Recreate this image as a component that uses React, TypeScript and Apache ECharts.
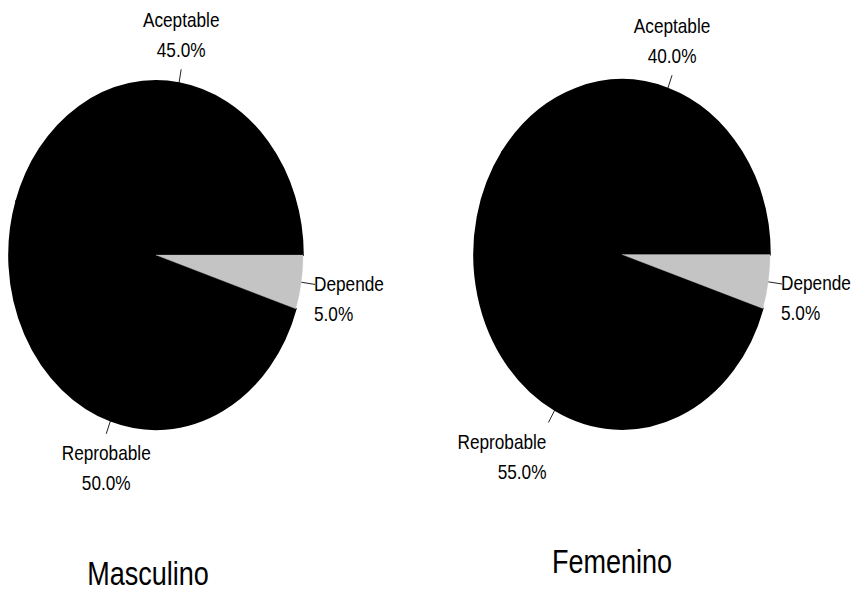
import React, { useEffect, useRef } from 'react';
import * as echarts from 'echarts';

// ---- data ----
const categories = ['Depende', 'Reprobable', 'Aceptable'];
const masculinoValues = [5, 50, 45];
const femeninoValues = [5, 55, 40];
const groupTitles = ['Masculino', 'Femenino'];

// ---- styles / layout ----
const FONT = '"Liberation Sans", Arial, sans-serif';
const NARROW = 0.82; // horizontal squeeze to imitate a narrow typeface
const SLICE_COLORS: Record<string, string> = {
  Depende: '#c4c4c4',
  Reprobable: '#000000',
  Aceptable: '#000000',
};
const PIES = [
  { cx: 156, cy: 255, rx: 147, ry: 174, titleX: 148, titleY: 574 },
  { cx: 622, cy: 254.5, rx: 148, ry: 174.5, titleX: 612, titleY: 562 },
];
const LABEL_FONT_SIZE = 21;
const LABEL_LINE_HEIGHT = 30;
const LINE_LEN = 14;

function makeRenderItem(values: number[], pie: typeof PIES[number]) {
  const total = values.reduce((a, b) => a + b, 0);
  return (params: any, api: any) => {
    const i = params.dataIndex;
    let before = 0;
    for (let k = 0; k < i; k++) before += values[k];
    const v = api.value(0) as number;
    const a0 = (before / total) * Math.PI * 2;
    const a1 = ((before + v) / total) * Math.PI * 2;
    const mid = (a0 + a1) / 2;
    const c = Math.cos(mid);
    const s = Math.sin(mid);
    const p0 = [pie.cx + pie.rx * c, pie.cy + pie.ry * s];
    const p1 = [p0[0] + LINE_LEN * c, p0[1] + LINE_LEN * s];
    let align = 'center';
    if (c > 0.4) align = 'left';
    else if (c < -0.4) align = 'right';
    let vAlign = 'middle';
    if (s > 0.4) vAlign = 'top';
    else if (s < -0.4) vAlign = 'bottom';
    const tx = p1[0] + (align === 'left' ? -1 : align === 'right' ? -2 : 0);
    const ty = p1[1] + (vAlign === 'top' ? 4 : vAlign === 'bottom' ? -4 : 14 * Math.sign(s));
    const name = categories[i];
    const pct = ((v / total) * 100).toFixed(1) + '%';
    const color = SLICE_COLORS[name];
    const isGray = color !== '#000000';
    return {
      type: 'group',
      children: [
        {
          type: 'sector',
          shape: { cx: pie.cx, cy: pie.cy, r: pie.rx, r0: 0, startAngle: a0, endAngle: a1, clockwise: true },
          originX: pie.cx,
          originY: pie.cy,
          scaleY: pie.ry / pie.rx,
          z2: isGray ? 2 : 1,
          style: { fill: color, stroke: color, lineWidth: isGray ? 0.3 : 1.6 },
        },
        {
          type: 'line',
          shape: { x1: p0[0], y1: p0[1], x2: p1[0], y2: p1[1] },
          style: { stroke: '#222', lineWidth: 1 },
        },
        {
          type: 'text',
          x: tx,
          y: ty,
          scaleX: NARROW,
          originX: 0,
          originY: 0,
          style: {
            text: name + '\n' + pct,
            fontFamily: FONT,
            fontSize: LABEL_FONT_SIZE,
            lineHeight: LABEL_LINE_HEIGHT,
            align,
            verticalAlign: vAlign,
            fill: '#000',
          },
        },
      ],
    };
  };
}

export default function App() {
  const ref = useRef<HTMLDivElement>(null);
  useEffect(() => {
    if (!ref.current) return;
    const chart = echarts.init(ref.current, null, { renderer: 'svg' });
    const seriesValues = [masculinoValues, femeninoValues];
    chart.setOption({
      animation: false,
      backgroundColor: '#ffffff',
      series: seriesValues.map((vals, idx) => ({
        type: 'custom',
        name: groupTitles[idx],
        coordinateSystem: 'none',
        renderItem: makeRenderItem(vals, PIES[idx]),
        data: vals.map((v) => [v]),
        silent: true,
      })),
      graphic: groupTitles.map((t, idx) => ({
        type: 'text',
        x: PIES[idx].titleX,
        y: PIES[idx].titleY,
        scaleX: NARROW,
        originX: 0,
        originY: 0,
        style: {
          text: t,
          fontFamily: FONT,
          fontSize: 33,
          align: 'center',
          verticalAlign: 'middle',
          fill: '#000',
        },
      })),
    });
    return () => chart.dispose();
  }, []);
  return (
    <div
      ref={ref}
      style={{ position: 'fixed', left: 0, top: 0, width: 857, height: 593, background: '#fff' }}
    />
  );
}
